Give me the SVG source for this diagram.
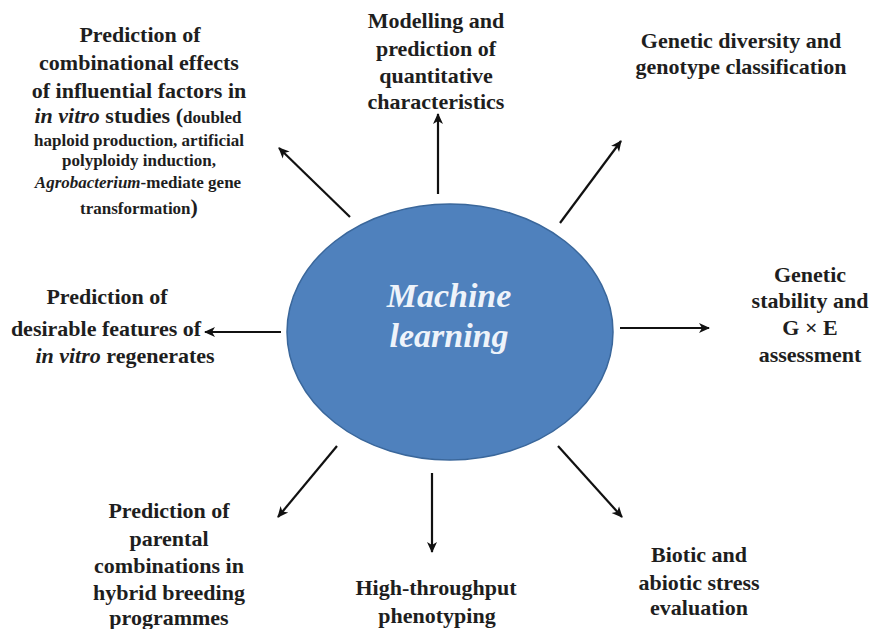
<svg xmlns="http://www.w3.org/2000/svg" width="872" height="629" viewBox="0 0 872 629">
<defs>
<marker id="ah" viewBox="0 0 12 12" refX="10" refY="6" markerWidth="12" markerHeight="12" markerUnits="userSpaceOnUse" orient="auto">
<path d="M0,1 L11,6 L0,11 L3,6 z" fill="#111"/>
</marker>
<style>
.t{font-weight:bold;fill:#1e1e1e;text-anchor:middle;font-size:22px}
.s{font-size:17px}
.a{stroke:#111;stroke-width:2.2;fill:none;marker-end:url(#ah)}
.ml{font-weight:bold;font-style:italic;font-size:34px;fill:#eef3fa;text-anchor:middle}
</style>
</defs>
<rect width="872" height="629" fill="#ffffff"/>
<g id="connectors">
<line class="a" x1="438" y1="194" x2="438" y2="114"/>
<line class="a" x1="350" y1="217" x2="279" y2="148"/>
<line class="a" x1="560" y1="223" x2="621" y2="141"/>
<line class="a" x1="281" y1="332" x2="205" y2="332"/>
<line class="a" x1="620" y1="328" x2="709" y2="328"/>
<line class="a" x1="337" y1="446" x2="278" y2="517"/>
<line class="a" x1="432" y1="473" x2="432" y2="552"/>
<line class="a" x1="558" y1="446" x2="622" y2="517"/>
</g>
<g font-family="Liberation Serif, Times New Roman, serif">
<g id="center">
<ellipse cx="450" cy="332" rx="163" ry="128" fill="#4f81bd" stroke="#3a679b" stroke-width="1.5"/>
<text class="ml" x="449" y="307">Machine</text>
<text class="ml" x="449" y="347">learning</text>
</g>
<g id="node-invitro">
<text class="t" x="140" y="42">Prediction of</text>
<text class="t" x="139" y="70">combinational effects</text>
<text class="t" x="139" y="98">of influential factors in</text>
<text class="t" x="138" y="123"><tspan font-style="italic">in vitro</tspan> studies (<tspan class="s">doubled</tspan></text>
<text class="t s" x="139" y="146">haploid production, artificial</text>
<text class="t s" x="139" y="166">polyploidy induction,</text>
<text class="t s" x="138" y="188"><tspan font-style="italic">Agrobacterium</tspan>-mediate gene</text>
<text class="t" x="139" y="214"><tspan class="s">transformation</tspan>)</text>
</g>
<g id="node-quant">
<text class="t" x="436" y="28">Modelling and</text>
<text class="t" x="436" y="56">prediction of</text>
<text class="t" x="436" y="83">quantitative</text>
<text class="t" x="436" y="109">characteristics</text>
</g>
<g id="node-diversity">
<text class="t" x="741" y="48">Genetic diversity and</text>
<text class="t" x="741" y="74">genotype classification</text>
</g>
<g id="node-regenerates">
<text class="t" x="107" y="304">Prediction of</text>
<text class="t" x="106" y="336">desirable features of</text>
<text class="t" x="125" y="363"><tspan font-style="italic">in vitro</tspan> regenerates</text>
</g>
<g id="node-stability">
<text class="t" x="810" y="282">Genetic</text>
<text class="t" x="810" y="308">stability and</text>
<text class="t" x="810" y="335">G × E</text>
<text class="t" x="810" y="362">assessment</text>
</g>
<g id="node-parental">
<text class="t" x="169" y="518">Prediction of</text>
<text class="t" x="169" y="546">parental</text>
<text class="t" x="169" y="573">combinations in</text>
<text class="t" x="169" y="600">hybrid breeding</text>
<text class="t" x="169" y="625">programmes</text>
</g>
<g id="node-phenotyping">
<text class="t" x="436" y="595">High-throughput</text>
<text class="t" x="437" y="623">phenotyping</text>
</g>
<g id="node-stress">
<text class="t" x="699" y="562">Biotic and</text>
<text class="t" x="699" y="590">abiotic stress</text>
<text class="t" x="699" y="615">evaluation</text>
</g>
</g>
</svg>
